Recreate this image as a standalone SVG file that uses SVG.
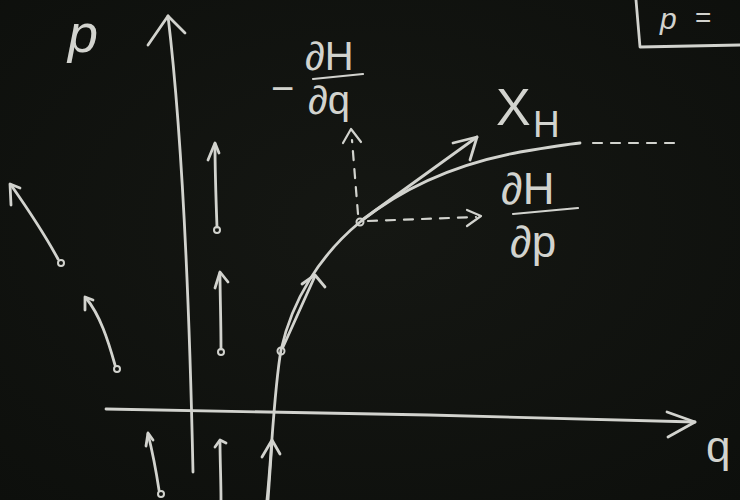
<svg xmlns="http://www.w3.org/2000/svg" width="740" height="500" viewBox="0 0 740 500">
  <defs>
    <radialGradient id="bg" cx="50%" cy="45%" r="75%">
      <stop offset="0" stop-color="#151713"/>
      <stop offset="1" stop-color="#0d0f0c"/>
    </radialGradient>
  </defs>
  <style>
    .chalk { fill: none; stroke: #d2d3ce; stroke-width: 2.8; stroke-linecap: round; stroke-linejoin: round; }
    .thin { stroke-width: 2.2; }
    .dash { stroke-dasharray: 9 9; stroke-width: 2.2; }
    .txt { fill: #d2d3ce; font-family: "Liberation Sans", "DejaVu Sans", sans-serif; }
    .dot { fill: none; stroke: #d2d3ce; stroke-width: 2; }
  </style>
  <rect x="0" y="0" width="740" height="500" fill="url(#bg)"/>

  <!-- axes -->
  <g id="axis-p">
    <path class="chalk" d="M193,472 C190,330 184,150 168,16"/>
    <path class="chalk" d="M148,45 L168,16 L185,33"/>
    <text class="txt" x="68" y="52" font-size="54" font-style="italic">p</text>
  </g>
  <g id="axis-q">
    <path class="chalk" d="M106,409 C300,412 500,416 695,422"/>
    <path class="chalk" d="M667,412 L695,422 L668,437"/>
    <text class="txt" x="706" y="462" font-size="44">q</text>
  </g>

  <!-- boxed formula, top right -->
  <g id="box">
    <path class="chalk" d="M636,0 L640,47 L740,45"/>
    <text class="txt" x="660" y="29" font-size="30" font-style="italic">p</text>
    <text class="txt" x="695" y="27" font-size="28">=</text>
  </g>

  <!-- integral curve -->
  <g id="curve">
    <path class="chalk" d="M267,500 C272,450 274,390 281,350 C292,300 320,255 360,222 C400,190 450,165 520,152 C550,147 570,144 580,143"/>
    <path class="chalk dash" d="M593,143 L683,143"/>
    <circle class="dot" cx="281" cy="351" r="3.5"/>
    <circle class="dot" cx="360" cy="222" r="3.5"/>
  </g>

  <!-- labels -->
  <g id="label-xh">
    <text class="txt" x="496" y="125" font-size="52">X</text>
    <text class="txt" x="533" y="137" font-size="37">H</text>
  </g>
  <g id="label-dHdq">
    <text class="txt" x="271" y="102" font-size="40">−</text>
    <text class="txt" x="305" y="70" font-size="40">∂H</text>
    <path class="chalk thin" d="M313,79 L363,74"/>
    <text class="txt" x="308" y="114" font-size="40">∂q</text>
  </g>
  <g id="label-dHdp">
    <text class="txt" x="501" y="204" font-size="44">∂H</text>
    <path class="chalk thin" d="M513,214 L578,208"/>
    <text class="txt" x="510" y="257" font-size="44">∂p</text>
  </g>

  <!-- connectors / vector field arrows -->
  <g id="connectors">
    <!-- X_H tangent at (360,222) -->
    <path class="chalk" d="M362,220 L477,137"/>
    <path class="chalk" d="M453,143 L477,137 L470,160"/>
    <!-- dashed components -->
    <path class="chalk dash" d="M358,214 L352,140"/>
    <path class="chalk thin" d="M343,143 L351,129 L361,142"/>
    <path class="chalk dash" d="M368,221 L476,217"/>
    <path class="chalk thin" d="M467,210 L481,216 L467,226"/>
    <!-- tangent at (281,351) -->
    <path class="chalk" d="M283,347 L315,276"/>
    <path class="chalk" d="M302,284 L315,275 L325,287"/>
    <!-- arrow on curve at bottom -->
    <path class="chalk" d="M262,457 L272,440 L280,454"/>
    <path class="chalk" d="M268,500 L272,442"/>
    <!-- field arrows -->
    <circle class="dot" cx="217" cy="230" r="3"/>
    <path class="chalk" d="M217,227 C216,200 215,170 215,144"/>
    <path class="chalk" d="M208,160 L215,143 L219,153"/>

    <circle class="dot" cx="221" cy="352" r="3"/>
    <path class="chalk" d="M221,349 C221,320 220,295 220,273"/>
    <path class="chalk" d="M215,288 L220,272 L228,282"/>

    <circle class="dot" cx="61" cy="263" r="3"/>
    <path class="chalk" d="M58,259 C45,235 25,205 11,185"/>
    <path class="chalk" d="M11,205 L10,184 L20,188"/>

    <circle class="dot" cx="117" cy="369" r="3"/>
    <path class="chalk" d="M115,365 C108,340 100,315 86,298"/>
    <path class="chalk" d="M85,310 L85,297 L93,300"/>

    <circle class="dot" cx="161" cy="494" r="3"/>
    <path class="chalk" d="M159,490 C156,470 152,450 148,434"/>
    <path class="chalk" d="M146,446 L148,433 L153,440"/>

    <path class="chalk" d="M221,500 C221,480 220,460 220,441"/>
    <path class="chalk" d="M215,447 L220,440 L226,443"/>
  </g>
</svg>
